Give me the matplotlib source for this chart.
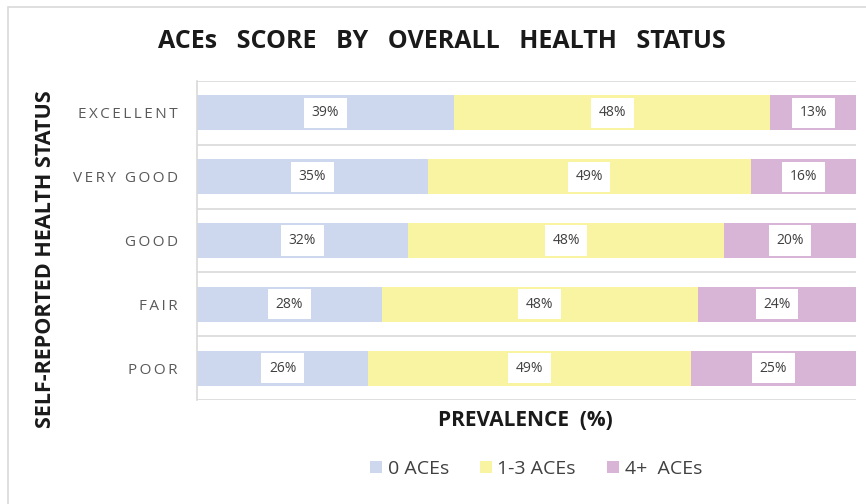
import matplotlib
matplotlib.use("Agg")
import matplotlib.pyplot as plt
from matplotlib.patches import Rectangle
import numpy as np

# data
categories = ["EXCELLENT", "VERY GOOD", "GOOD", "FAIR", "POOR"]
aces_0 = [39, 35, 32, 28, 26]
aces_1_3 = [48, 49, 48, 48, 49]
aces_4plus = [13, 16, 20, 24, 25]
series_names = ["0 ACEs", "1-3 ACEs", "4+  ACEs"]
colors = ["#cdd7ee", "#f8f4a1", "#d8b4d6"]

FONT = ["Open Sans", "DejaVu Sans"]
plt.rcParams["font.family"] = FONT


def spaced(s, sep="\u2009"):
    # fake letter spacing for the category labels
    return sep.join(s)


fig = plt.figure(figsize=(8.66, 5.04), dpi=100)
ax = fig.add_axes([197 / 866, 1 - 400 / 504, (856 - 197) / 866, (400 - 81) / 504])

# outer chart border (left + top visible only)
fig.patches.append(Rectangle((8 / 866, -0.1), 1.2, 1 - 7 / 504 + 0.1,
                             transform=fig.transFigure, fill=False,
                             edgecolor="#d9d9d9", linewidth=1.2))

y = np.arange(len(categories))
left = np.zeros(len(categories))
for vals, color, name in zip([aces_0, aces_1_3, aces_4plus], colors, series_names):
    vals = np.array(vals, dtype=float)
    ax.barh(y, vals, height=0.55, left=left, color=color, label=name, linewidth=0)
    for yi, l, v in zip(y, left, vals):
        ax.text(l + v / 2, yi, f"{int(v)}%", ha="center", va="center",
                fontsize=10, color="#404040",
                bbox=dict(boxstyle="square,pad=0.55", facecolor="white", edgecolor="none"))
    left += vals

ax.set_xlim(0, 100)
ax.set_ylim(len(categories) - 0.5, -0.5)

for b in np.arange(-0.5, len(categories), 1.0):
    ax.axhline(b, color="#d9d9d9", linewidth=1.2, zorder=0)

for side in ["top", "right", "bottom"]:
    ax.spines[side].set_visible(False)
ax.spines["left"].set_color("#d9d9d9")
ax.spines["left"].set_linewidth(1.2)

ax.set_xticks([])
ax.set_yticks(y)
ax.set_yticklabels([spaced(c) for c in categories], fontsize=11, color="#595959")
ax.tick_params(axis="y", length=0, pad=14)

fig.text(442 / 866, 1 - 42 / 504, "ACEs   SCORE   BY   OVERALL   HEALTH   STATUS",
         ha="center", va="center", fontsize=18, fontweight="bold", color="#1a1a1a")
fig.text(46 / 866, 1 - 259 / 504, "SELF-REPORTED HEALTH STATUS", rotation=90,
         ha="center", va="center", fontsize=15.5, fontweight="bold", color="#1a1a1a")
fig.text(525 / 866, 1 - 421 / 504, "PREVALENCE  (%)", ha="center", va="center",
         fontsize=15, fontweight="bold", color="#1a1a1a")

fig.legend(loc="center", bbox_to_anchor=(536 / 866, 1 - 469 / 504), ncol=3,
           frameon=False, fontsize=14, handlelength=0.6, handleheight=0.6,
           handletextpad=0.3, columnspacing=1.6, labelcolor="#404040")

plt.savefig("out.png", dpi=100)
plt.close()
